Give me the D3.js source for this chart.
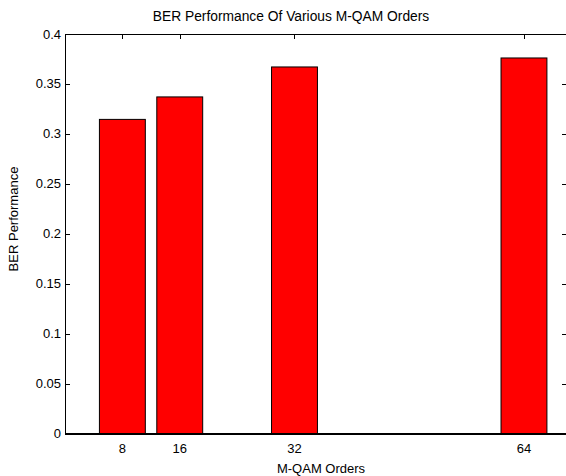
<!DOCTYPE html>
<html>
<head>
<meta charset="utf-8">
<script src="https://cdn.jsdelivr.net/npm/d3@7"></script>
<style>
  body { margin: 0; background: #fff; }
  text { font-family: "Liberation Sans", Arial, sans-serif; fill: #000; }
</style>
</head>
<body>
<div id="chart"></div>
<script>
// data
var orders = [8, 16, 32, 64];
var ber = [0.3145, 0.337, 0.367, 0.376];
var yTicks = [0, 0.05, 0.1, 0.15, 0.2, 0.25, 0.3, 0.35, 0.4];
var yTickLabels = ["0", "0.05", "0.1", "0.15", "0.2", "0.25", "0.3", "0.35", "0.4"];

var w = 566, h = 476;
// plot box edges (note: "top" is a reserved window prop, so use pLeft etc)
var pLeft = 65, pRight = 567, pTop = 34, pBottom = 433.5;
var tickLen = 5;

var xScale = d3.scaleLinear().domain([0, 70]).range([pLeft, pRight]);
var yScale = d3.scaleLinear().domain([0, 0.4]).range([pBottom, pTop]);
var barW = xScale(6.4) - xScale(0);

var svg = d3.select("#chart")
            .append("svg")
            .attr("width", w)
            .attr("height", h);

// ticks drawn inward on all four sides (bars cover them, like matlab)
var ticks = svg.append("g").attr("stroke", "#000").attr("stroke-width", 1);
yTicks.forEach(function(t) {
  var y = Math.round(yScale(t)) + 0.5;
  ticks.append("line").attr("x1", pLeft).attr("x2", pLeft + tickLen).attr("y1", y).attr("y2", y);
  ticks.append("line").attr("x1", pRight - tickLen).attr("x2", pRight).attr("y1", y).attr("y2", y);
});
orders.forEach(function(o) {
  var x = Math.round(xScale(o)) + 0.5;
  ticks.append("line").attr("x1", x).attr("x2", x).attr("y1", pTop).attr("y2", pTop + tickLen);
  ticks.append("line").attr("x1", x).attr("x2", x).attr("y1", pBottom - tickLen).attr("y2", pBottom);
});

// bars
svg.selectAll("rect.bar")
   .data(orders)
   .enter()
   .append("rect")
   .attr("class", "bar")
   .attr("x", function(d) { return xScale(d) - barW / 2; })
   .attr("y", function(d, i) { return yScale(ber[i]); })
   .attr("width", barW)
   .attr("height", function(d, i) { return pBottom - yScale(ber[i]); })
   .attr("fill", "#ff0000")
   .attr("stroke", "#000")
   .attr("stroke-width", 1);

// box
svg.append("rect")
   .attr("x", pLeft + 0.5)
   .attr("y", pTop + 0.5)
   .attr("width", pRight - pLeft)
   .attr("height", pBottom - pTop)
   .attr("fill", "none")
   .attr("stroke", "#000")
   .attr("stroke-width", 1);
svg.append("line")
   .attr("x1", pLeft).attr("x2", pRight)
   .attr("y1", pBottom + 0.5).attr("y2", pBottom + 0.5)
   .attr("stroke", "#000").attr("stroke-width", 2);

// tick labels
svg.selectAll("text.ylab")
   .data(yTicks)
   .enter()
   .append("text")
   .attr("class", "ylab")
   .attr("x", pLeft - 4)
   .attr("y", function(d) { return yScale(d) + 4.5; })
   .attr("text-anchor", "end")
   .attr("font-size", 13)
   .text(function(d, i) { return yTickLabels[i]; });

svg.selectAll("text.xlab")
   .data(orders)
   .enter()
   .append("text")
   .attr("class", "xlab")
   .attr("x", function(d) { return xScale(d); })
   .attr("y", 452.5)
   .attr("text-anchor", "middle")
   .attr("font-size", 13)
   .text(function(d) { return d; });

// titles
svg.append("text")
   .attr("x", 291)
   .attr("y", 21)
   .attr("text-anchor", "middle")
   .attr("font-size", 13.8)
   .text("BER Performance Of Various M-QAM Orders");

svg.append("text")
   .attr("x", 321)
   .attr("y", 473)
   .attr("text-anchor", "middle")
   .attr("font-size", 13)
   .text("M-QAM Orders");

svg.append("text")
   .attr("transform", "translate(18,219) rotate(-90)")
   .attr("text-anchor", "middle")
   .attr("font-size", 13)
   .text("BER Performance");
</script>
</body>
</html>
